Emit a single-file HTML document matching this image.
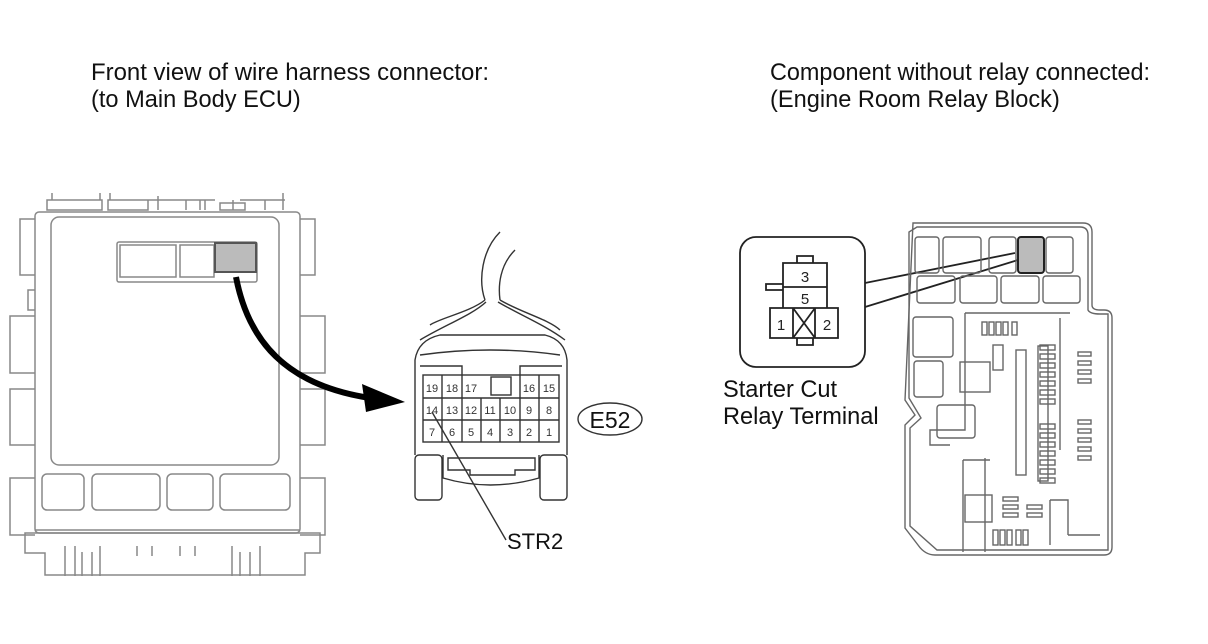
<!DOCTYPE html>
<html><head><style>
html,body{margin:0;padding:0;background:#fff;}
svg{display:block;font-family:"Liberation Sans",sans-serif;}
</style></head><body>
<svg width="1208" height="644" viewBox="0 0 1208 644" xmlns="http://www.w3.org/2000/svg">
<g font-size="23.6" fill="#111">
<text x="91" y="80" textLength="398" lengthAdjust="spacingAndGlyphs">Front view of wire harness connector:</text>
<text x="91" y="107">(to Main Body ECU)</text>
<text x="770" y="80" textLength="380" lengthAdjust="spacingAndGlyphs">Component without relay connected:</text>
<text x="770" y="107">(Engine Room Relay Block)</text>
<text x="723" y="397">Starter Cut</text>
<text x="723" y="424">Relay Terminal</text>
</g>
<text x="507" y="549" font-size="22" fill="#111">STR2</text>
<!-- Left ECU -->
<g fill="none" stroke="#888" stroke-width="1.5">
<path d="M47 200 h55 v10 h-55z M52 193 v7 M100 193 v7 M108 200 h40 v10 h-40z M110 193 v7 M158 196 v14 M128 200 h30 M155 200 h60 M186 200 v10 M200 200 v10 M220 210 h25 v-7 h-25z M190 200 h15 v10 M233 200 v10 M265 200 v10 M240 200 h45 M283 193 v17"/>
<rect x="35" y="212" width="265" height="321" rx="4"/>
<rect x="51" y="217" width="228" height="248" rx="8"/>
<rect x="117" y="242" width="140" height="40" rx="2"/>
<rect x="120" y="245" width="56" height="32"/>
<rect x="180" y="245" width="34" height="32"/>
<rect x="42" y="474" width="42" height="36" rx="5"/>
<rect x="92" y="474" width="68" height="36" rx="5"/>
<rect x="167" y="474" width="46" height="36" rx="5"/>
<rect x="220" y="474" width="70" height="36" rx="5"/>
<path d="M35 530 h265 M25 533 h295 v20 h-15 v22 H45 v-22 H25z M65 546 v30 M75 546 v30 M82 552 v24 M92 552 v24 M100 546 v30 M137 546 v10 M152 546 v10 M180 546 v10 M195 546 v10 M232 546 v30 M240 552 v24 M250 552 v24 M260 546 v30"/>
<path d="M35 219 H20 v56 H35 M35 316 H10 v57 H35 M35 389 H10 v56 H35 M35 478 H10 v57 H35 M35 290 h-7 v20 h7"/>
<path d="M300 219 h15 v56 h-15 M300 316 h25 v57 h-25 M300 389 h25 v56 h-25 M300 478 h25 v57 h-25"/>
</g>
<rect x="215" y="243" width="41" height="29" fill="#bbb" stroke="#555" stroke-width="2"/>
<path d="M236 277 C248 340 285 385 370 398" fill="none" stroke="#000" stroke-width="6"/>
<path d="M405 402 L362 384 L366 412 Z" fill="#000"/>
<!-- Connector -->
<g fill="none" stroke="#333" stroke-width="1.4">
<path d="M500 232 C482 250 478 280 485 300 M515 250 C500 265 498 285 500 300 M485 300 C470 312 440 318 430 325 M500 300 C520 312 550 320 560 330 M486 302 C472 315 445 325 420 340 M498 302 C520 315 545 325 565 340"/>
<path d="M415 455 V360 Q418 340 440 335 H545 Q565 340 567 360 V455"/>
<path d="M420 355 Q490 345 560 355"/>
<path d="M420 366 H462 V375 M562 366 H520 V375"/>
<rect x="423" y="375" width="136" height="67"/>
<path d="M423 398 H559 M423 420 H559 M442 375 V442 M462 375 V442 M481 398 V442 M500 398 V442 M520 375 V442 M539 375 V442 M462 398 V442"/>
<rect x="491" y="377" width="20" height="18"/>
<rect x="415" y="455" width="27" height="45" rx="4"/>
<rect x="540" y="455" width="27" height="45" rx="4"/>
<path d="M443 455 V478 Q490 492 539 478 V455 M448 458 H535 V470 H515 V475 H470 V470 H448 Z"/>
<ellipse cx="610" cy="419" rx="32" ry="16"/>
<line x1="432" y1="412" x2="506" y2="540"/>
</g>
<g font-size="11" fill="#333" text-anchor="middle">
<text x="432" y="392">19</text><text x="452" y="392">18</text><text x="471" y="392">17</text><text x="529" y="392">16</text><text x="549" y="392">15</text>
<text x="432" y="414">14</text><text x="452" y="414">13</text><text x="471" y="414">12</text><text x="490" y="414">11</text><text x="510" y="414">10</text><text x="529" y="414">9</text><text x="549" y="414">8</text>
<text x="432" y="436">7</text><text x="452" y="436">6</text><text x="471" y="436">5</text><text x="490" y="436">4</text><text x="510" y="436">3</text><text x="529" y="436">2</text><text x="549" y="436">1</text>
</g>
<text x="610" y="428" font-size="23" text-anchor="middle" fill="#111">E52</text>
<!-- Relay inset -->
<g fill="none" stroke="#222" stroke-width="1.8">
<rect x="740" y="237" width="125" height="130" rx="16"/>
<path d="M783 263 H827 V308 H838 V338 H770 V308 H783 Z M783 287 H827 M783 308 H827 M793 308 V338 M815 308 V338 M793 308 L815 338 M815 308 L793 338"/>
<path d="M797 263 V256 H813 V263 M797 338 V345 H813 V338 M783 284 H766 V290 H783"/>
<path d="M865 283 L1015 253 M865 307 L1018 260"/>
</g>
<g font-size="15" fill="#222" text-anchor="middle">
<text x="805" y="282">3</text><text x="805" y="304">5</text><text x="781" y="330">1</text><text x="827" y="330">2</text>
</g>
<!-- Relay block -->
<g fill="none" stroke="#666" stroke-width="1.4">
<path d="M913 223 H1083 Q1092 223 1092 232 V305 Q1092 310 1100 310 H1104 Q1112 310 1112 318 V547 Q1112 555 1104 555 H935 Q925 555 918 545 L905 528 V425 L915 415 L905 400 Z"/>
<path d="M917 227 H1080 Q1088 227 1088 235 V310 Q1090 314 1100 314 H1108 V550 H937 L910 526 V428 L921 418 L909 398 V232 Z"/>
<rect x="915" y="237" width="24" height="36" rx="3"/>
<rect x="943" y="237" width="38" height="36" rx="3"/>
<rect x="989" y="237" width="27" height="36" rx="3"/>
<rect x="1046" y="237" width="27" height="36" rx="3"/>
<rect x="917" y="276" width="38" height="27" rx="3"/>
<rect x="960" y="276" width="37" height="27" rx="3"/>
<rect x="1001" y="276" width="38" height="27" rx="3"/>
<rect x="1043" y="276" width="37" height="27" rx="3"/>
<rect x="913" y="317" width="40" height="40" rx="3"/>
<rect x="914" y="361" width="29" height="36" rx="3"/>
<path d="M965 313 H1070 M965 313 V430 H930 V445 H950 M1060 318 V450"/>
<rect x="960" y="362" width="30" height="30"/>
<rect x="937" y="405" width="38" height="33" rx="3"/>
<rect x="993" y="345" width="10" height="25"/><rect x="1016" y="350" width="10" height="125"/>
<rect x="1038" y="346" width="10" height="135"/>
<path d="M963 460 V552 M963 460 H990 M985 458 V552"/>
<rect x="965" y="495" width="27" height="27"/>
<g>
<rect x="982" y="322" width="5" height="13"/><rect x="989" y="322" width="5" height="13"/><rect x="996" y="322" width="5" height="13"/><rect x="1003" y="322" width="5" height="13"/><rect x="1012" y="322" width="5" height="13"/>
<rect x="1040" y="345" width="15" height="5"/><rect x="1040" y="354" width="15" height="5"/><rect x="1040" y="363" width="15" height="5"/><rect x="1040" y="372" width="15" height="5"/><rect x="1040" y="381" width="15" height="5"/><rect x="1040" y="390" width="15" height="5"/><rect x="1040" y="399" width="15" height="5"/>
<rect x="1040" y="424" width="15" height="5"/><rect x="1040" y="433" width="15" height="5"/><rect x="1040" y="442" width="15" height="5"/><rect x="1040" y="451" width="15" height="5"/><rect x="1040" y="460" width="15" height="5"/><rect x="1040" y="469" width="15" height="5"/><rect x="1040" y="478" width="15" height="5"/>
<rect x="1078" y="352" width="13" height="4"/><rect x="1078" y="361" width="13" height="4"/><rect x="1078" y="370" width="13" height="4"/><rect x="1078" y="379" width="13" height="4"/>
<rect x="1078" y="420" width="13" height="4"/><rect x="1078" y="429" width="13" height="4"/><rect x="1078" y="438" width="13" height="4"/><rect x="1078" y="447" width="13" height="4"/><rect x="1078" y="456" width="13" height="4"/>
<rect x="1003" y="497" width="15" height="4"/><rect x="1003" y="505" width="15" height="4"/><rect x="1003" y="513" width="15" height="4"/><rect x="1027" y="505" width="15" height="4"/><rect x="1027" y="513" width="15" height="4"/>
<rect x="993" y="530" width="5" height="15"/><rect x="1000" y="530" width="5" height="15"/><rect x="1007" y="530" width="5" height="15"/><rect x="1016" y="530" width="5" height="15"/><rect x="1023" y="530" width="5" height="15"/>
</g>
<path d="M1050 500 H1068 V535 M1050 500 V545 M1068 535 H1100"/>
</g>
<rect x="1018" y="237" width="26" height="36" rx="3" fill="#bbb" stroke="#222" stroke-width="2"/>
</svg>
</body></html>
